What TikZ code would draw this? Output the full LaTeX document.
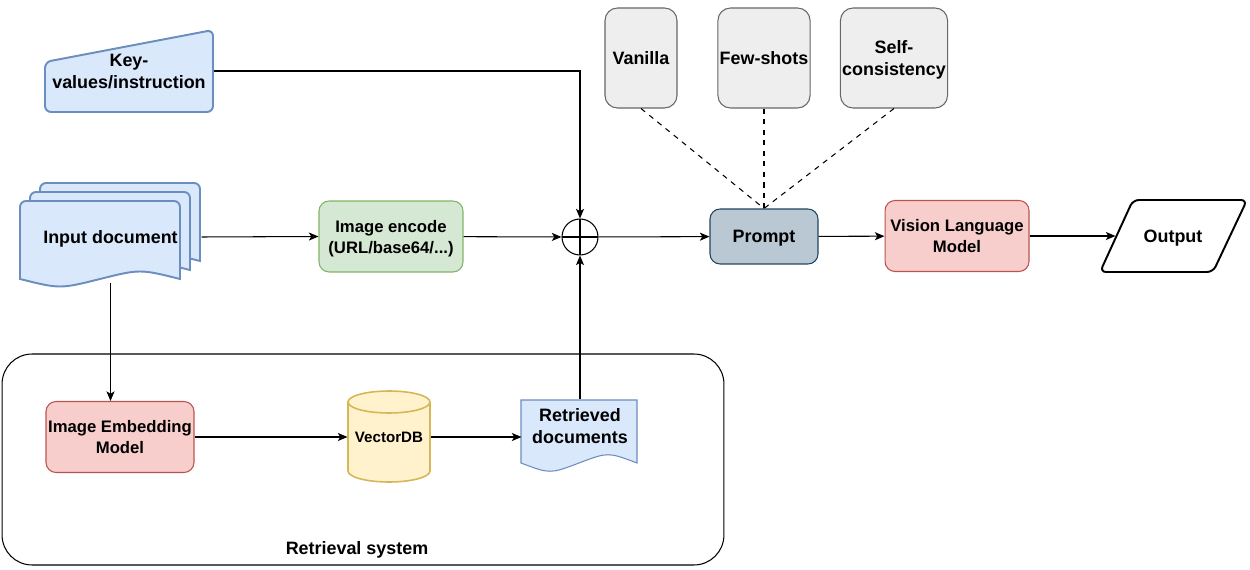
\documentclass[tikz,border=0pt]{standalone}
\usepackage{fontspec}
\setmainfont{Liberation Sans}
\usetikzlibrary{calc, positioning}
\usetikzlibrary{arrows.meta}
\definecolor{bluefill}{HTML}{DAE8FC}
\definecolor{blueline}{HTML}{6C8EBF}
\definecolor{greenfill}{HTML}{D5E8D4}
\definecolor{greenline}{HTML}{82B366}
\definecolor{redfill}{HTML}{F8CECC}
\definecolor{redline}{HTML}{B85450}
\definecolor{yellowfill}{HTML}{FFF2CC}
\definecolor{yellowline}{HTML}{D6B656}
\definecolor{grayfill}{HTML}{EEEEEE}
\definecolor{grayline}{HTML}{666666}
\definecolor{slatefill}{HTML}{BAC8D3}
\definecolor{slateline}{HTML}{23445D}
\tikzset{
  font=\fontsize{10.2}{12.5}\selectfont\bfseries,
  % Set arrowhead
  >={Stealth[length=5.5pt, width=4.6pt, inset=1.4pt]},
  % Text sits a little low, as in the original
  lowtext/.style={text depth=-2.2pt},
  % General box
  box/.style={draw, rounded corners=0.2cm, align=center, inner sep=1pt,
    lowtext},
  smallbox/.style={box, font=\fontsize{9.5}{12}\selectfont\bfseries},
  % Image encode box
  encbox/.style={smallbox, fill=greenfill, draw=greenline,
    minimum width=2.88cm, minimum height=1.42cm},
  % Model boxes
  modelbox/.style={smallbox, fill=redfill, draw=redline,
    minimum width=2.88cm, minimum height=1.42cm},
  % Prompt box
  promptbox/.style={box, fill=slatefill, draw=slateline,
    minimum width=2.16cm, minimum height=1.1cm},
  % Prompting strategy
  strat/.style={box, rounded corners=0.25cm, fill=grayfill, draw=grayline,
    minimum height=2cm},
  % Invisible text holder for drawn shapes
  holder/.style={align=center, inner sep=0pt, lowtext},
  % Shapes drawn by hand
  docshape/.style={fill=bluefill, draw=blueline, line width=1.1pt},
  retshape/.style={fill=bluefill, draw=blueline},
  dbshape/.style={fill=yellowfill, draw=yellowline, line width=0.9pt},
  outshape/.style={fill=white, draw=black, line width=1.1pt},
  % Summing junction
  sum/.style={draw, circle, fill=white, minimum size=0.72cm, inner sep=0pt,
    path picture={\draw (path picture bounding box.north) --
      (path picture bounding box.south) (path picture bounding box.west) --
      (path picture bounding box.east);}},
  % Retrieval frame
  frame/.style={draw, rounded corners=0.6cm, minimum width=14.44cm,
    minimum height=4.22cm},
}
\begin{document}
\begin{tikzpicture}[x=0.02cm, y=-0.02cm, line width=0.6pt]
  \useasboundingbox (0,0) rectangle (1250,570);

  % Retrieval system frame
  \node[frame] (retr) at (363,459.5) {};
  \node[lowtext] (retrlbl) at (357,548) {Retrieval system};

  % Key-values (manual input)
  \draw[docshape, rounded corners=0.12cm] (45,62) -- (213,30) -- (213,112)
    -- (45,112) -- cycle;
  \node[holder, minimum width=3.36cm, minimum height=1.64cm] (kv) at (129,71)
    {Key-\\values/instruction};

  % Input document stack
  \foreach \dx/\dy in {20/-18, 10/-9, 0/0} {
    \draw[docshape, shift={(\dx,\dy)}]
      (20,279) [rounded corners=0.12cm] -- (20,201) -- (180,201)
      [sharp corners] -- (180,279)
      .. controls (140,269) .. (100,279) .. controls (60,289) .. (20,279)
      -- cycle;
  }
  \node[holder, minimum width=3.62cm, minimum height=1.8cm] (indoc)
    at (110.5,237) {Input document};

  % Main row
  \node[encbox] (enc) at (391,236.5) {Image encode\\(URL/base64/...)};
  \node[sum] (sum) at (580,237) {};
  \node[promptbox] (prompt) at (764,236.5) {Prompt};
  \node[modelbox] (vlm) at (957,236) {Vision Language\\Model};
  \draw[outshape, rounded corners=0.12cm] (1100,272) -- (1133,200)
    -- (1247,200) -- (1213,272) -- cycle;
  \node[holder, minimum width=2.28cm, minimum height=1.44cm] (out)
    at (1173,236) {Output};

  % Prompting strategies
  \node[strat, minimum width=1.44cm] (van) at (641,58) {Vanilla};
  \node[strat, minimum width=1.84cm] (few) at (764,58) {Few-shots};
  \node[strat, minimum width=2.04cm] (selfc) at (894,58)
    {Self-\\consistency};

  % Retrieval row
  \node[modelbox, minimum width=2.96cm] (emb) at (120,437)
    {Image Embedding\\Model};
  \draw[dbshape] (348,402) -- (348,471)
    arc[start angle=180, end angle=360, x radius=0.82cm, y radius=0.22cm]
    -- (430,402)
    arc[start angle=0, end angle=180, x radius=0.82cm, y radius=0.22cm]
    -- cycle;
  \draw[dbshape] (348,402)
    arc[start angle=180, end angle=360, x radius=0.82cm, y radius=0.22cm];
  \node[holder, minimum width=1.64cm, minimum height=1.8cm,
    font=\fontsize{8.6}{11}\selectfont\bfseries] (vdb) at (389,437) {VectorDB};
  \draw[retshape] (521,463) -- (521,400) -- (637,400) -- (637,463)
    .. controls (608,452) .. (579,463) .. controls (550,474) .. (521,463)
    -- cycle;
  \node[holder, minimum width=2.32cm, minimum height=1.04cm] (ret)
    at (580,426) {Retrieved\\documents};

  % Connectors
  \draw[->] (kv.east) -| (sum.north);
  \draw[->] (indoc.east) -- (enc.west);
  \draw[->] (enc) -- (sum);
  \draw[->] (sum) -- (prompt);
  \draw[->] (prompt) -- (vlm);
  \draw[->] (vlm) -- (out);
  \draw[->] (indoc.south) -- (indoc.south |- emb.north);
  \draw[->] (emb) -- (vdb);
  \draw[->] (vdb.east) -- (vdb.east -| ret.west);
  \draw[->] (ret.north) -- (sum.south);
  \draw[dashed] (van.south) -- (prompt.north);
  \draw[dashed] (few.south) -- (prompt.north);
  \draw[dashed] (selfc.south) -- (prompt.north);
\end{tikzpicture}
\end{document}
